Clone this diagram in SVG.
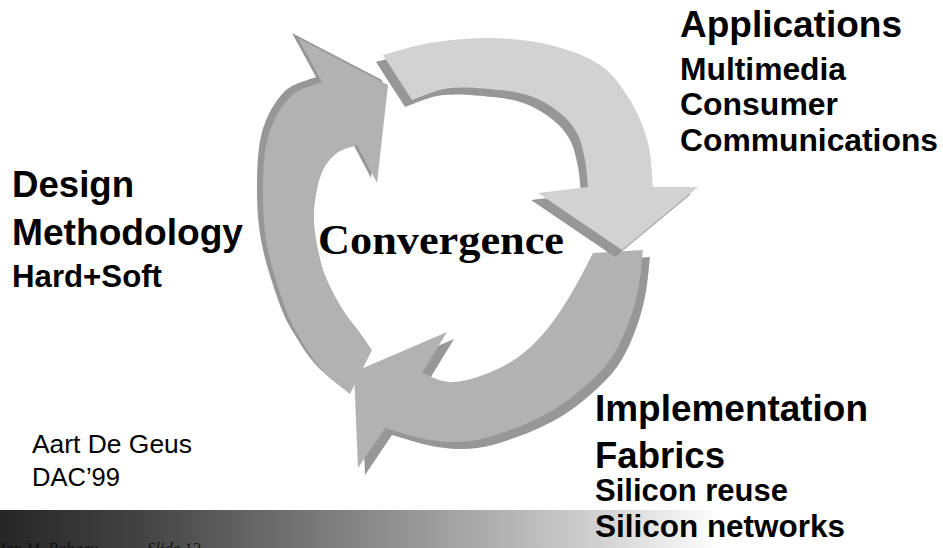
<svg xmlns="http://www.w3.org/2000/svg" xmlns:xlink="http://www.w3.org/1999/xlink" width="943" height="548" viewBox="0 0 943 548">
<style>
.big{font-family:"Liberation Sans",Arial,sans-serif;font-weight:bold;font-size:37px;fill:#000}
.small{font-family:"Liberation Sans",Arial,sans-serif;font-weight:bold;font-size:31px;fill:#000}
.reg{font-family:"Liberation Sans",Arial,sans-serif;font-size:25px;fill:#000}
.conv{font-family:"Liberation Serif","Times New Roman",serif;font-weight:bold;font-size:42px;fill:#000}
.foot{font-family:"Liberation Serif","Times New Roman",serif;font-style:italic;font-size:16.5px;fill:#111}
.shadow{fill:#979797}
.mid{fill:#b2b2b2}
.light{fill:#d2d2d2}
</style>
<defs>
<linearGradient id="bar" gradientUnits="userSpaceOnUse" x1="0" y1="0" x2="720" y2="0">
<stop offset="0" stop-color="#262626"/>
<stop offset="0.2" stop-color="#444444"/>
<stop offset="0.333" stop-color="#616161"/>
<stop offset="0.653" stop-color="#a8a8a8"/>
<stop offset="0.843" stop-color="#d4d4d4"/>
<stop offset="1" stop-color="#ffffff"/>
</linearGradient>
<path id="arcL" d="M 350,394 C 345.3,390 330.2,379 322,370 C 313.8,361 307,350 301,340 C 295,330 291.5,325 286,310 C 280.5,295 271.8,269.2 268,250 C 264.2,230.8 263,213.8 263,195 C 263,176.2 263.5,153.3 268,137 C 272.5,120.7 281,106.2 290,97 C 299,87.8 316.7,84.5 322,82 L 298,38 L 388,85 L 377,183 L 357,145 C 353.7,146.3 342.7,148.8 337,153 C 331.3,157.2 326.5,163 323,170 C 319.5,177 317.5,186.3 316,195 C 314.5,203.7 313.5,212.2 314,222 C 314.5,231.8 316.8,244.3 319,254 C 321.2,263.7 323,270.7 327,280 C 331,289.3 337.5,301.2 343,310 C 348.5,318.8 355.2,326.3 360,333 C 364.8,339.7 370,347.2 372,350 Z"/>
<path id="arcB" d="M 593,253 L 643,250 C 642.2,256.7 640.7,277.2 638,290 C 635.3,302.8 631.7,315.3 627,327 C 622.3,338.7 617.3,349.8 610,360 C 602.7,370.2 593,379.3 583,388 C 573,396.7 562.2,405 550,412 C 537.8,419 523.3,425.2 510,430 C 496.7,434.8 483.3,439.3 470,441 C 456.7,442.7 444.2,442.2 430,440 C 415.8,437.8 392.5,430 385,428 L 358,468 L 354,372 L 447,332 L 422,373 C 426.7,374.5 439.8,381.7 450,382 C 460.2,382.3 471.8,379 483,375 C 494.2,371 507,364.8 517,358 C 527,351.2 535.3,342.5 543,334 C 550.7,325.5 556.8,316.3 563,307 C 569.2,297.7 575,287 580,278 C 585,269 590.8,257.2 593,253 Z"/>
<path id="arcA" d="M 383,55 C 390.8,53 412.2,45.8 430,43 C 447.8,40.2 470,37.7 490,38 C 510,38.3 531.7,40.5 550,45 C 568.3,49.5 586.7,55.8 600,65 C 613.3,74.2 622,87 630,100 C 638,113 644.2,128.5 648,143 C 651.8,157.5 652.2,179.7 653,187 L 698,187 L 622,250 L 538,193 L 588,187 C 587.5,182.5 586.8,169 585,160 C 583.2,151 581.2,140.8 577,133 C 572.8,125.2 567.3,119 560,113 C 552.7,107 543,100.8 533,97 C 523,93.2 513.8,91.5 500,90 C 486.2,88.5 464.7,86.3 450,88 C 435.3,89.7 418.3,98 412,100 Z"/>
</defs>
<rect width="943" height="548" fill="#ffffff"/>
<rect id="footer-bar" x="0" y="510" width="943" height="38" fill="url(#bar)"/>
<g id="connectors">
<g id="arrow-design">
<use xlink:href="#arcL" class="shadow" transform="translate(-6,-5)"/>
<use xlink:href="#arcL" class="mid"/>
</g>
<g id="arrow-implementation">
<use xlink:href="#arcB" class="shadow" transform="translate(7,7)"/>
<use xlink:href="#arcB" class="mid"/>
</g>
<g id="arrow-applications">
<use xlink:href="#arcA" class="shadow" transform="translate(-7,7)"/>
<use xlink:href="#arcA" class="light"/>
</g>
</g>
<g id="node-convergence">
<text class="conv" x="318" y="254" textLength="246" lengthAdjust="spacingAndGlyphs">Convergence</text>
</g>
<g id="node-applications">
<text class="big" x="680" y="37" textLength="222" lengthAdjust="spacingAndGlyphs">Applications</text>
<text class="small" x="680" y="80" textLength="166" lengthAdjust="spacingAndGlyphs">Multimedia</text>
<text class="small" x="680" y="115" textLength="158" lengthAdjust="spacingAndGlyphs">Consumer</text>
<text class="small" x="680" y="151" textLength="258" lengthAdjust="spacingAndGlyphs">Communications</text>
</g>
<g id="node-design">
<text class="big" x="12" y="197" textLength="122" lengthAdjust="spacingAndGlyphs">Design</text>
<text class="big" x="12" y="245" textLength="231" lengthAdjust="spacingAndGlyphs">Methodology</text>
<text class="small" x="12" y="287" textLength="150" lengthAdjust="spacingAndGlyphs">Hard+Soft</text>
</g>
<g id="node-implementation">
<text class="big" x="595" y="421" textLength="273" lengthAdjust="spacingAndGlyphs">Implementation</text>
<text class="big" x="595" y="468" textLength="130" lengthAdjust="spacingAndGlyphs">Fabrics</text>
<text class="small" x="595" y="501" textLength="193" lengthAdjust="spacingAndGlyphs">Silicon reuse</text>
<text class="small" x="595" y="537" textLength="250" lengthAdjust="spacingAndGlyphs">Silicon networks</text>
</g>
<g id="node-author">
<text class="reg" x="32" y="453" textLength="160" lengthAdjust="spacingAndGlyphs">Aart De Geus</text>
<text class="reg" x="32" y="486" textLength="88" lengthAdjust="spacingAndGlyphs">DAC’99</text>
</g>
<g id="node-footer">
<text class="foot" x="-2" y="554">Jan M. Rabaey</text>
<text class="foot" x="147" y="554">Slide 12</text>
</g>
</svg>
